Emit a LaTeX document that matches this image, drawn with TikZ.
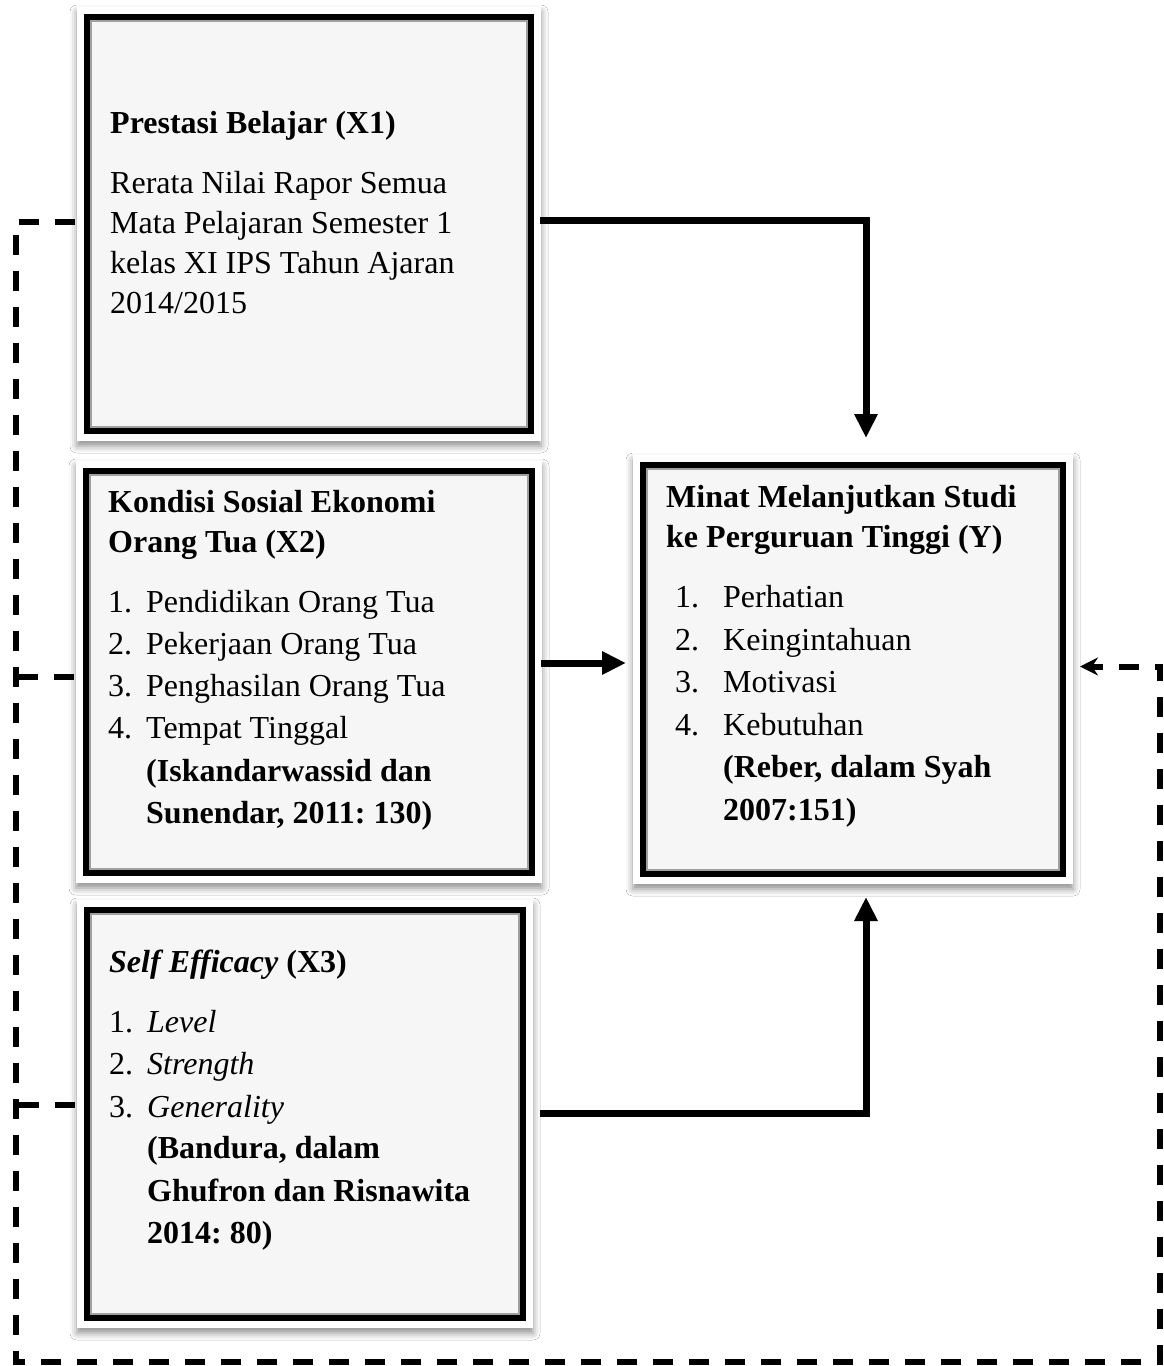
\documentclass[tikz,border=0pt]{standalone}
\usepackage{fontspec}
\setmainfont{Liberation Serif}
\usetikzlibrary{arrows.meta,shadows.blur,backgrounds,calc}
\definecolor{boxfill}{HTML}{F6F6F6}
\definecolor{innerline}{HTML}{A0A0A0}
\frenchspacing
\tikzset{
  frame/.style={draw=black, line width=6pt, fill=boxfill, inner sep=0pt},
  txt/.style={anchor=base west, inner sep=0pt, font=\fontsize{32}{38}\selectfont},
  conn/.style={line width=7pt, -{Triangle[length=24pt,width=22pt]}},
  dconn/.style={line width=6pt, dash pattern=on 20pt off 16pt},
  innerframe/.style={draw=innerline, line width=2pt},
  halo/.style={fill=white, blur shadow={shadow xshift=0pt, shadow yshift=-5pt, shadow blur radius=7pt, shadow opacity=45}},
}
\newcommand\txtline[4]{\node[txt] (#1) at (#2,#3) {#4};}
\newcommand\nbox[2]{\makebox[#1][l]{#2}}
\begin{document}
\begin{tikzpicture}[x=1pt,y=-1pt]
\useasboundingbox (0,0) rectangle (1163,1366);
% boxes
\node[frame, minimum width=444pt, minimum height=414pt] (x1) at (309,224) {};
\node[frame, minimum width=446pt, minimum height=402pt] (x2) at (309,672) {};
\node[frame, minimum width=436pt, minimum height=408pt] (x3) at (305,1114) {};
\node[frame, minimum width=420pt, minimum height=409pt] (y) at (853,669.5) {};
\begin{scope}[on background layer]
  \fill[white] (0,0) rectangle (1163,1366);
  \foreach \b in {x1,x2,x3,y}{
    \path[halo] ($(\b.north west)+(-7,-7)$) rectangle ($(\b.south east)+(7,7)$);
  }
\end{scope}
\foreach \b in {x1,x2,x3,y}{
  \draw[innerframe] ($(\b.north west)+(7,7)$) rectangle ($(\b.south east)+(-7,-7)$);
}
% X1 text
\txtline{t11}{110}{133}{\textbf{Prestasi Belajar (X1)}}
\txtline{t12}{110}{193}{Rerata Nilai Rapor Semua}
\txtline{t13}{110}{233}{Mata Pelajaran Semester 1}
\txtline{t14}{110}{273}{kelas XI IPS Tahun Ajaran}
\txtline{t15}{110}{313}{2014/2015}
% X2 text
\txtline{t21}{108}{512}{\textbf{Kondisi Sosial Ekonomi}}
\txtline{t22}{108}{552}{\textbf{Orang Tua (X2)}}
\txtline{t23}{108}{612}{\nbox{38pt}{1.}Pendidikan Orang Tua}
\txtline{t24}{108}{654}{\nbox{38pt}{2.}Pekerjaan Orang Tua}
\txtline{t25}{108}{696}{\nbox{38pt}{3.}Penghasilan Orang Tua}
\txtline{t26}{108}{738}{\nbox{38pt}{4.}Tempat Tinggal}
\txtline{t27}{146}{781}{\textbf{(Iskandarwassid dan}}
\txtline{t28}{146}{823}{\textbf{Sunendar, 2011: 130)}}
% X3 text
\txtline{t31}{109}{972}{\textbf{\textit{Self Efficacy} (X3)}}
\txtline{t32}{109}{1032}{\nbox{38pt}{1.}\textit{Level}}
\txtline{t33}{109}{1074}{\nbox{38pt}{2.}\textit{Strength}}
\txtline{t34}{109}{1117}{\nbox{38pt}{3.}\textit{Generality}}
\txtline{t35}{147}{1158}{\textbf{(Bandura, dalam}}
\txtline{t36}{147}{1201}{\textbf{Ghufron dan Risnawita}}
\txtline{t37}{147}{1243}{\textbf{2014: 80)}}
% Y text
\txtline{ty1}{666}{507}{\textbf{Minat Melanjutkan Studi}}
\txtline{ty2}{666}{547}{\textbf{ke Perguruan Tinggi (Y)}}
\txtline{ty3}{675}{607}{\nbox{48pt}{1.}Perhatian}
\txtline{ty4}{675}{650}{\nbox{48pt}{2.}Keingintahuan}
\txtline{ty5}{675}{692}{\nbox{48pt}{3.}Motivasi}
\txtline{ty6}{675}{735}{\nbox{48pt}{4.}Kebutuhan}
\txtline{ty7}{723}{777}{\textbf{(Reber, dalam Syah}}
\txtline{ty8}{723}{820}{\textbf{2007:151)}}
% solid connectors
\draw[conn] ([shift={(6,-4)}]x1.east) -| ([shift={(13,-24)}]y.north);
\draw[conn] ([shift={(6,-9)}]x2.east) -- ([shift={(-14,-6.5)}]y.west);
\draw[conn] ([shift={(14,-1)}]x3.east) -| ([shift={(13,20)}]y.south);
% dashed connectors
\coordinate (bl) at (16,1362);
\coordinate (br) at (1160,1362);
\coordinate (s2) at ([shift={(-9,5)}]x2.west);
\coordinate (s3) at ([shift={(-9,-9)}]x3.west);
\draw[dconn, -{Stealth[length=18pt,width=18pt]}] ([shift={(-9,-2)}]x1.west) -| (bl) -- (br) |- ([shift={(14,-3)}]y.east);
\draw[dconn] (s2) -- (s2 -| bl);
\draw[dconn] (s3) -- (s3 -| bl);
\end{tikzpicture}
\end{document}
